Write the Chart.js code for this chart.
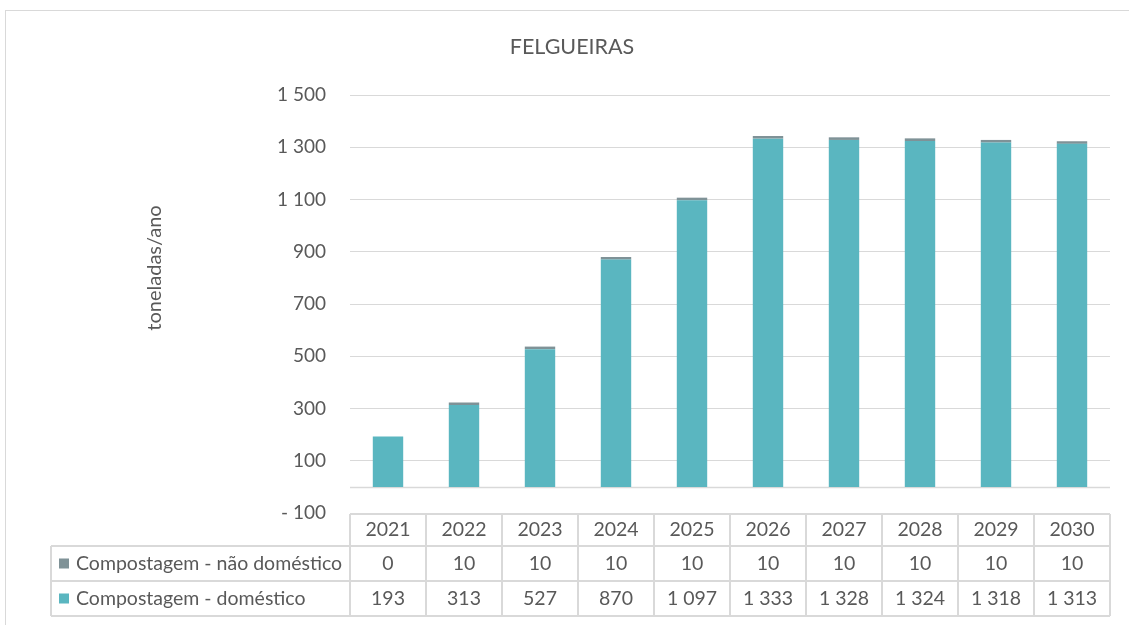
<!DOCTYPE html>
<html>
<head>
<meta charset="utf-8">
<script src="https://cdn.jsdelivr.net/npm/chart.js@4/dist/chart.umd.min.js"></script>
<style>
  html, body { margin: 0; padding: 0; background: #fff; overflow: hidden; }
  .frame { position: absolute; left: 5px; top: 10px; width: 1200px; height: 700px; border: 1px solid #d9d9d9; }
  canvas { position: absolute; left: 0; top: 0; }
</style>
</head>
<body>
<div class="frame"></div>
<canvas id="chart" width="1129" height="625"></canvas>
<script>
// -------- Data --------
const chartTitle = 'FELGUEIRAS';
const axisTitle = 'toneladas/ano';
const years = ['2021', '2022', '2023', '2024', '2025', '2026', '2027', '2028', '2029', '2030'];
const domestico = [193, 313, 527, 870, 1097, 1333, 1328, 1324, 1318, 1313];
const naoDomestico = [0, 10, 10, 10, 10, 10, 10, 10, 10, 10];
const seriesNames = ['Compostagem - doméstico', 'Compostagem - não doméstico'];
const seriesColors = ['#5ab6c0', '#7f9297'];
const yMin = -100, yMax = 1500, yStep = 200;

const textColor = '#595959';
const gridColor = '#d9d9d9';
const fontFamily = 'Lato, "Open Sans", sans-serif';

// number format like "1 097" and "- 100"
function fmt(v) {
    const s = Math.abs(v).toString().replace(/\B(?=(\d{3})+(?!\d))/g, ' ');
    return v < 0 ? '- ' + s : s;
}

// -------- Titles, zero line and data table --------
const extrasPlugin = {
    id: 'extras',
    beforeDatasetsDraw(chart) {
        const { ctx, chartArea, scales: { y } } = chart;
        const y0 = Math.round(y.getPixelForValue(0)) + 0.5;
        ctx.save();
        ctx.strokeStyle = gridColor;
        ctx.lineWidth = 1.5;
        ctx.beginPath();
        ctx.moveTo(chartArea.left, y0);
        ctx.lineTo(chartArea.right, y0);
        ctx.stroke();
        ctx.restore();
    },
    afterDraw(chart) {
        const { ctx, chartArea, scales: { x } } = chart;
        ctx.save();

        // chart title
        ctx.fillStyle = textColor;
        ctx.font = '21.5px ' + fontFamily;
        ctx.textAlign = 'center';
        ctx.textBaseline = 'middle';
        ctx.fillText(chartTitle, 572, 47);

        // y axis title (Excel centres it a bit above the plot middle)
        ctx.save();
        ctx.translate(155, 268);
        ctx.rotate(-Math.PI / 2);
        ctx.font = '20px ' + fontFamily;
        ctx.fillText(axisTitle, 0, 0);
        ctx.restore();

        // table geometry
        const colW = x.width / years.length;
        const top = chartArea.bottom + 1;
        const rowH = [32, 35, 35];
        const legendLeft = 51;
        const rows = [top, top + rowH[0], top + rowH[0] + rowH[1], top + rowH[0] + rowH[1] + rowH[2]];

        ctx.strokeStyle = gridColor;
        ctx.lineWidth = 2;
        ctx.beginPath();
        // horizontal lines
        ctx.moveTo(chartArea.left, rows[0]); ctx.lineTo(chartArea.right, rows[0]);
        for (let r = 1; r < rows.length; r++) {
            ctx.moveTo(legendLeft, rows[r]); ctx.lineTo(chartArea.right, rows[r]);
        }
        // vertical lines
        ctx.moveTo(legendLeft, rows[1]); ctx.lineTo(legendLeft, rows[3]);
        for (let i = 0; i <= years.length; i++) {
            const xx = chartArea.left + i * colW;
            ctx.moveTo(xx, rows[0]); ctx.lineTo(xx, rows[3]);
        }
        ctx.stroke();

        // cell texts
        ctx.font = '19.5px ' + fontFamily;
        ctx.fillStyle = textColor;
        ctx.textAlign = 'center';
        ctx.textBaseline = 'middle';
        years.forEach((yr, i) => {
            ctx.fillText(yr, x.getPixelForValue(i), (rows[0] + rows[1]) / 2);
        });

        // rows: top series first (as in Excel)
        const tableSeries = chart.data.datasets.slice().reverse();
        tableSeries.forEach((ds, r) => {
            const cy = (rows[r + 1] + rows[r + 2]) / 2;
            ctx.fillStyle = ds.backgroundColor;
            ctx.fillRect(legendLeft + 8, cy - 5, 10, 10);
            ctx.fillStyle = textColor;
            ctx.textAlign = 'left';
            ctx.fillText(ds.label, legendLeft + 25, cy);
            ctx.textAlign = 'center';
            ds.data.forEach((v, i) => {
                ctx.fillText(fmt(v), x.getPixelForValue(i), cy);
            });
        });
        ctx.restore();
    }
};

const ctx = document.getElementById('chart');
new Chart(ctx, {
    type: 'bar',
    data: {
        labels: years,
        datasets: [
            { label: seriesNames[0], data: domestico, backgroundColor: seriesColors[0] },
            { label: seriesNames[1], data: naoDomestico, backgroundColor: seriesColors[1] }
        ]
    },
    options: {
        responsive: false,
        animation: false,
        layout: { padding: { left: 140, right: 19, top: 95, bottom: 112 } },
        datasets: { bar: { categoryPercentage: 1, barPercentage: 0.4 } },
        plugins: {
            legend: { display: false },
            tooltip: { enabled: false }
        },
        scales: {
            x: {
                stacked: true,
                display: false
            },
            y: {
                stacked: true,
                min: yMin,
                max: yMax,
                afterFit: (scale) => { scale.width = 210; },
                border: { display: false },
                grid: {
                    drawTicks: false,
                    color: (c) => c.tick && c.tick.value === yMin ? 'rgba(0,0,0,0)' : gridColor
                },
                ticks: {
                    stepSize: yStep,
                    padding: 24,
                    color: textColor,
                    font: { family: fontFamily, size: 19 },
                    callback: (v) => fmt(v)
                }
            }
        }
    },
    plugins: [extrasPlugin]
});
</script>
</body>
</html>
